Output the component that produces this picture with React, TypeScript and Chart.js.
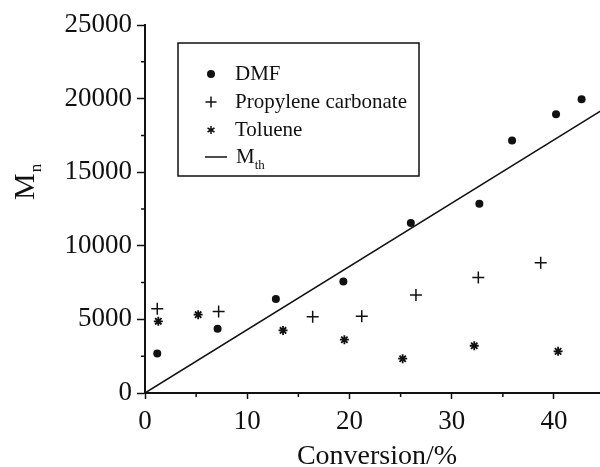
import { useEffect, useRef } from 'react';
import { Chart, registerables } from 'chart.js';

Chart.register(...registerables);

// Number-average molar mass vs. monomer conversion in three solvents
const DMF_X = [1.2, 7.1, 12.8, 19.4, 26.0, 32.7, 35.9, 40.2, 42.7];
const DMF_Y = [2690, 4370, 6390, 7580, 11550, 12860, 17160, 18930, 19950];

const PC_X = [1.2, 7.2, 16.4, 21.2, 26.5, 32.6, 38.7];
const PC_Y = [5730, 5540, 5180, 5220, 6650, 7850, 8850];

const TOL_X = [1.3, 5.2, 13.5, 19.5, 25.2, 32.2, 40.4];
const TOL_Y = [4870, 5320, 4250, 3620, 2330, 3210, 2830];

// Theoretical molar mass line
const MTH_X = [0, 45];
const MTH_Y = [0, 19350];

const X_TICKS = [0, 10, 20, 30, 40];
const X_MINOR = [5, 15, 25, 35];
const Y_TICKS = [0, 5000, 10000, 15000, 20000, 25000];
const Y_MINOR = [2500, 7500, 12500, 17500, 22500];

const SERIF = "'Liberation Serif', 'Times New Roman', serif";
const INK = '#111';

const pts = (xs: number[], ys: number[]) => xs.map((x, i) => ({ x, y: ys[i] }));

function drawMarker(ctx: CanvasRenderingContext2D, kind: string, x: number, y: number) {
  ctx.save();
  ctx.fillStyle = INK;
  ctx.strokeStyle = INK;
  ctx.lineWidth = 1.5;
  if (kind === 'circle') {
    ctx.beginPath();
    ctx.arc(x, y, 4, 0, Math.PI * 2);
    ctx.fill();
  } else if (kind === 'cross') {
    ctx.beginPath();
    ctx.moveTo(x - 5.5, y);
    ctx.lineTo(x + 5.5, y);
    ctx.moveTo(x, y - 5.5);
    ctx.lineTo(x, y + 5.5);
    ctx.stroke();
  } else if (kind === 'star') {
    ctx.beginPath();
    for (let k = 0; k < 3; k++) {
      const a = Math.PI / 2 + (k * Math.PI) / 3;
      ctx.moveTo(x + 4 * Math.cos(a), y + 4 * Math.sin(a));
      ctx.lineTo(x - 4 * Math.cos(a), y - 4 * Math.sin(a));
    }
    ctx.stroke();
  } else {
    ctx.beginPath();
    ctx.moveTo(x - 6, y);
    ctx.lineTo(x + 16, y);
    ctx.stroke();
  }
  ctx.restore();
}

const decorations = {
  id: 'decorations',
  afterDraw(chart: any) {
    const { ctx, chartArea, scales } = chart;
    const xs = scales.x;
    const ys = scales.y;
    ctx.save();
    ctx.strokeStyle = INK;
    ctx.lineWidth = 1.5;

    // minor ticks
    ctx.beginPath();
    X_MINOR.forEach((v) => {
      const px = xs.getPixelForValue(v);
      ctx.moveTo(px, chartArea.bottom);
      ctx.lineTo(px, chartArea.bottom + 4);
    });
    Y_MINOR.forEach((v) => {
      const py = ys.getPixelForValue(v);
      ctx.moveTo(chartArea.left, py);
      ctx.lineTo(chartArea.left - 4, py);
    });
    ctx.stroke();

    // axis titles
    ctx.fillStyle = INK;
    ctx.textBaseline = 'alphabetic';
    ctx.textAlign = 'center';
    ctx.font = `28px ${SERIF}`;
    ctx.fillText('Conversion/%', 377, 464);

    ctx.save();
    ctx.translate(34, 200);
    ctx.rotate(-Math.PI / 2);
    ctx.textAlign = 'left';
    ctx.font = `30px ${SERIF}`;
    ctx.fillText('M', 0, 0);
    const mw = ctx.measureText('M').width;
    ctx.font = `17px ${SERIF}`;
    ctx.fillText('n', mw + 1, 7);
    ctx.restore();

    // legend box
    const bx = 178;
    const by = 43;
    const bw = 241;
    const bh = 133;
    ctx.lineWidth = 1.5;
    ctx.strokeRect(bx, by, bw, bh);

    const kinds = ['circle', 'cross', 'star', 'line'];
    const rows = [74, 102, 130, 157];
    ctx.textAlign = 'left';
    chart.data.datasets.forEach((ds: any, i: number) => {
      const ry = rows[i];
      drawMarker(ctx, kinds[i], 211, ry);
      if (i === 3) {
        ctx.font = `21px ${SERIF}`;
        ctx.fillText('M', 236, ry + 6);
        const w = ctx.measureText('M').width;
        ctx.font = `13px ${SERIF}`;
        ctx.fillText('th', 236 + w, ry + 12);
      } else {
        ctx.font = `21px ${SERIF}`;
        ctx.fillText(ds.label, 235, ry + 6);
      }
    });
    ctx.restore();
  },
};

export default function App() {
  const ref = useRef<HTMLCanvasElement | null>(null);

  useEffect(() => {
    if (!ref.current) return;
    const chart = new Chart(ref.current, {
      type: 'scatter',
      data: {
        datasets: [
          {
            label: 'DMF',
            data: pts(DMF_X, DMF_Y),
            pointStyle: 'circle',
            pointRadius: 4,
            backgroundColor: INK,
            borderColor: INK,
            borderWidth: 0,
          },
          {
            label: 'Propylene carbonate',
            data: pts(PC_X, PC_Y),
            pointStyle: 'cross',
            pointRadius: 6,
            backgroundColor: INK,
            borderColor: INK,
            borderWidth: 1.5,
          },
          {
            label: 'Toluene',
            data: pts(TOL_X, TOL_Y),
            pointStyle: 'star',
            pointRadius: 4.5,
            backgroundColor: INK,
            borderColor: INK,
            borderWidth: 1.8,
          },
          {
            type: 'line',
            label: 'Mth',
            data: pts(MTH_X, MTH_Y),
            showLine: true,
            pointRadius: 0,
            borderColor: INK,
            borderWidth: 1.5,
            fill: false,
          } as any,
        ],
      },
      options: {
        animation: false,
        responsive: false,
        devicePixelRatio: 1,
        layout: { autoPadding: false, padding: { top: 25, right: 0, left: 0, bottom: 0 } },
        plugins: {
          legend: { display: false },
          tooltip: { enabled: false },
        },
        scales: {
          x: {
            type: 'linear',
            min: 0,
            max: 44.5,
            afterFit: (s: any) => {
              s.height = 74;
            },
            afterBuildTicks: (s: any) => {
              s.ticks = X_TICKS.map((v) => ({ value: v }));
            },
            ticks: {
              color: INK,
              font: { family: SERIF, size: 27 },
              padding: 7,
              maxRotation: 0,
              autoSkip: false,
              callback: (v: any) => String(v),
            },
            grid: {
              drawOnChartArea: false,
              drawTicks: true,
              tickLength: 6,
              tickColor: INK,
              tickWidth: 1.5,
            },
            border: { color: INK, width: 2 },
          },
          y: {
            type: 'linear',
            min: 0,
            max: 25000,
            afterFit: (s: any) => {
              s.width = 145;
            },
            afterBuildTicks: (s: any) => {
              s.ticks = Y_TICKS.map((v) => ({ value: v }));
            },
            ticks: {
              color: INK,
              font: { family: SERIF, size: 27 },
              padding: 5,
              autoSkip: false,
              callback: (v: any) => String(v),
            },
            grid: {
              drawOnChartArea: false,
              drawTicks: true,
              tickLength: 8,
              tickColor: INK,
              tickWidth: 1.5,
            },
            border: { color: INK, width: 2 },
          },
        },
      },
      plugins: [decorations],
    });
    return () => chart.destroy();
  }, []);

  return (
    <div style={{ position: 'fixed', left: 0, top: 0, width: 600, height: 467, background: '#fff' }}>
      <canvas ref={ref} width={600} height={467} />
    </div>
  );
}
